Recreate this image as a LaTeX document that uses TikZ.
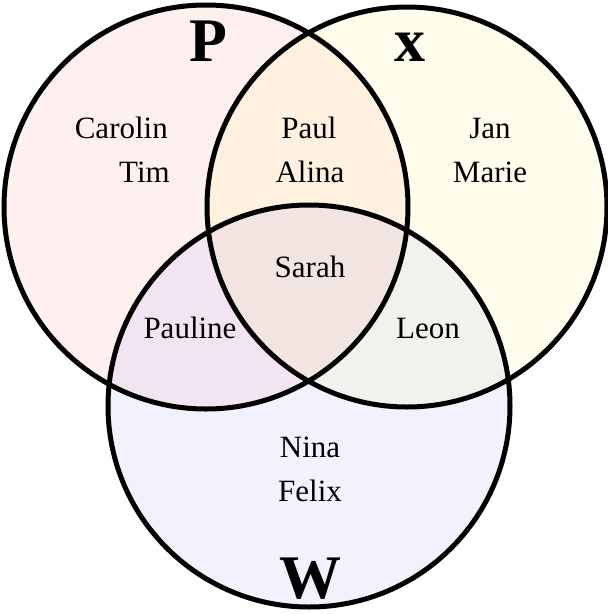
\documentclass[tikz,border=0pt]{standalone}
\usepackage{fontspec}
\setmainfont{Liberation Serif}
\begin{document}
\begin{tikzpicture}[x=1pt,y=-1pt,
  ring/.style={line width=5pt,draw=black},
  person/.style={font=\fontsize{31}{36}\selectfont,anchor=base,inner sep=0pt},
  setlabel/.style={font=\fontsize{62}{70}\selectfont\bfseries,anchor=base,inner sep=0pt}]
\useasboundingbox (0,0) rectangle (608,614);
% fills
\fill[red,fill opacity=0.06] (206,207) circle (202);
\fill[yellow,fill opacity=0.07] (407,207) circle (200);
\fill[blue,fill opacity=0.05] (309,406) circle (201);
% outlines
\draw[ring] (206,207) circle (202);
\draw[ring] (407,207) circle (200);
\draw[ring] (309,406) circle (201);
% set labels
\node[setlabel] (lp) at (208,61) {P};
\node[setlabel] (lx) at (410,61) {x};
\node[setlabel] (lw) at (310,598) {W};
% names
\node[person,anchor=base east] (carolin) at (168,138) {Carolin};
\node[person,anchor=base east] (tim) at (170,182) {Tim};
\node[person] (paul) at (309,138) {Paul};
\node[person] (alina) at (310,182) {Alina};
\node[person] (jan) at (490,138) {Jan};
\node[person] (marie) at (490,182) {Marie};
\node[person] (sarah) at (310,277) {Sarah};
\node[person] (pauline) at (190,338) {Pauline};
\node[person] (leon) at (428,338) {Leon};
\node[person] (nina) at (310,457) {Nina};
\node[person] (felix) at (310,501) {Felix};
\end{tikzpicture}
\end{document}
